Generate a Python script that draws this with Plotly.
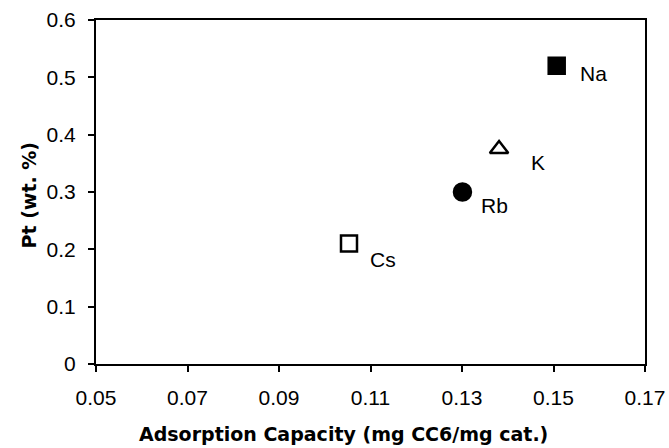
import plotly.graph_objects as go

# Alkali promoter data: adsorption capacity vs Pt loading
elements = ["Na", "K", "Rb", "Cs"]
adsorption_capacity = [0.1507, 0.1381, 0.1301, 0.1053]
pt_loading = [0.52, 0.375, 0.30, 0.21]

marker_symbols = ["square", "triangle-up-open", "circle", "square-open"]
marker_sizes = [16, 16, 17, 16]

# label offsets (px) from each point
label_dx = [37, 39, 32, 34]
label_dy = [8, 13, 13, 16]

x_ticks = [0.05, 0.07, 0.09, 0.11, 0.13, 0.15, 0.17]
y_ticks = [0, 0.1, 0.2, 0.3, 0.4, 0.5, 0.6]

TICK_FONT = "Liberation Sans"
TITLE_FONT = "DejaVu Sans"

fig = go.Figure()
for name, x, y, sym, sz in zip(elements, adsorption_capacity, pt_loading,
                               marker_symbols, marker_sizes):
    fig.add_trace(go.Scatter(
        x=[x], y=[y], mode="markers", name=name,
        marker=dict(symbol=sym, size=sz, color="black",
                    line=dict(color="black", width=2.5)),
        showlegend=False, cliponaxis=False,
    ))

annotations = []
for name, x, y, dx, dy in zip(elements, adsorption_capacity, pt_loading,
                              label_dx, label_dy):
    annotations.append(dict(
        x=x, y=y, xref="x", yref="y", text=name, showarrow=False,
        xshift=dx, yshift=-dy,
        font=dict(family=TICK_FONT, size=21, color="black"),
    ))

annotations.append(dict(
    x=0.4517, y=-0.204, xref="paper", yref="paper",
    text="<b>Adsorption Capacity (mg CC6/mg cat.)</b>", showarrow=False,
    xanchor="center", yanchor="middle",
    font=dict(family=TITLE_FONT, size=19, color="black"),
))
annotations.append(dict(
    x=-0.122, y=0.49, xref="paper", yref="paper",
    text="<b>Pt (wt. %)</b>", showarrow=False, textangle=-90,
    xanchor="center", yanchor="middle",
    font=dict(family=TITLE_FONT, size=19, color="black"),
))

axis_common = dict(
    showgrid=False, zeroline=False, showline=True, linecolor="black",
    linewidth=2, mirror=True, ticks="outside", ticklen=6, tickwidth=2,
    tickcolor="black", automargin=False,
    tickfont=dict(family=TICK_FONT, size=21, color="black"),
)

fig.update_layout(
    width=669, height=448,
    margin=dict(l=96, r=24, t=20, b=84, autoexpand=False),
    paper_bgcolor="white", plot_bgcolor="white",
    xaxis=dict(range=[0.05, 0.17], tickvals=x_ticks,
               ticktext=[f"{v:.2f}" for v in x_ticks],
               ticklabelstandoff=8, **axis_common),
    yaxis=dict(range=[0, 0.6], tickvals=y_ticks,
               ticktext=["0"] + [f"{v:.1f}" for v in y_ticks[1:]],
               ticklabelstandoff=8, **axis_common),
    annotations=annotations,
)

fig.write_html("out.html")
